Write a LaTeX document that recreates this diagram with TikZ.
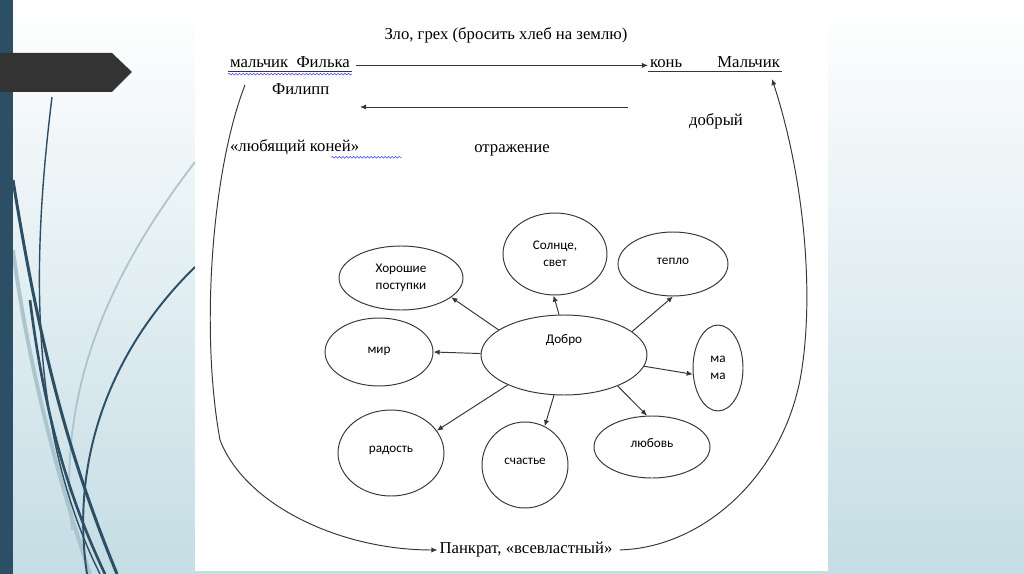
\documentclass[tikz,border=0pt]{standalone}
\usepackage{fontspec}
\setmainfont{Liberation Serif}
\newfontfamily\calfont{Carlito}
\usetikzlibrary{arrows.meta,shapes.geometric,decorations.pathmorphing}

\definecolor{stripblue}{RGB}{44,79,101}
\definecolor{lightcurve}{RGB}{172,196,206}
\definecolor{bgbottom}{RGB}{197,221,229}
\definecolor{taggray}{RGB}{51,51,51}
\definecolor{ink}{RGB}{55,55,55}

\tikzset{
  txt/.style={font=\fontsize{9.5}{11}\selectfont, inner sep=1pt},
  oval/.style={draw=ink, ellipse, inner sep=0pt, align=center, line width=0.55pt,
    font=\calfont\fontsize{7.5}{9.5}\selectfont},
  arr/.style={draw=ink, line width=0.55pt, -{Latex[length=3.5pt,width=3pt]}},
  uline/.style={draw=ink, line width=0.45pt},
  squig/.style={draw=blue!75, line width=0.3pt, decorate,
    decoration={snake, segment length=2pt, amplitude=0.5pt}},
}

\begin{document}
\begin{tikzpicture}[x=0.02cm, y=-0.02cm]
  \useasboundingbox (0,0) rectangle (1024,574);

  % Slide background
  \shade[top color=white, bottom color=bgbottom] (0,0) rectangle (1024,574);
  \fill[white] (195,0) rectangle (828,571);
  \fill[stripblue] (0,0) rectangle (13,574);

  % Curves on the left
  \begin{scope}
    \clip (13,0) rectangle (195,574);
    \draw[lightcurve, line width=2.2pt] (13,250) .. controls (30,380) and (65,500) .. (90,574);
    \draw[lightcurve, line width=1pt] (195,162) .. controls (120,260) and (55,380) .. (72,530);
    \draw[stripblue, line width=0.8pt] (52,97) .. controls (32,260) and (28,430) .. (100,574);
    \draw[stripblue, line width=1.7pt] (13,180) .. controls (40,350) and (70,460) .. (117,574);
    \draw[stripblue, line width=1.5pt] (30,300) .. controls (45,420) and (70,500) .. (105,574);
    \draw[stripblue, line width=1.1pt] (195,267) .. controls (110,350) and (70,460) .. (87,574);
  \end{scope}
  \fill[taggray] (0,53) -- (112,53) -- (132,72) -- (112,92) -- (0,92) -- cycle;

  % Top texts
  \node[txt] (title) at (506,35) {Зло, грех (бросить хлеб на землю)};
  \node[txt, anchor=base west] (boy) at (228,68) {мальчик\ \ Филька};
  \node[txt, anchor=base west] (kon) at (648,68) {конь};
  \node[txt, anchor=base east] (malchik) at (782,68) {Мальчик};
  \node[txt, anchor=base west] (filipp) at (270,95) {Филипп};
  \node[txt] (dobryi) at (716,121) {добрый};
  \node[txt, anchor=base west] (lyub) at (228,152) {«любящий коней»};
  \node[txt] (otrazh) at (512,150) {отражение};
  \node[txt] (pankrat) at (526,550) {Панкрат, «всевластный»};

  % Underlines
  \draw[uline] ([yshift=-2pt]boy.base west) -- ([yshift=-2pt]boy.base east);
  \draw[squig] ([yshift=-3.5pt]boy.base west) -- ([yshift=-3.5pt]boy.base east);
  \draw[uline] ([yshift=-2pt]kon.base west) -- ([yshift=-2pt]malchik.base east);
  \draw[squig] ([xshift=-17pt,yshift=-3pt]lyub.base east) -- ([xshift=23pt,yshift=-3pt]lyub.base east);

  % Arrows between the names
  \coordinate (a2s) at (628,107);
  \coordinate (a2e) at (360,107);
  \draw[arr, shorten <=2pt] ([yshift=1.5pt]boy.base east) -- ([yshift=1.5pt]kon.base west);
  \draw[arr] (a2s) -- (a2e);

  % Ovals
  \node[oval, minimum width=3.32cm, minimum height=1.6cm, text depth=18pt] (dobro) at (564,355) {Добро};
  \node[oval, minimum width=2.08cm, minimum height=1.64cm] (sol) at (555,254) {Солнце,\\свет};
  \node[oval, minimum width=2.48cm, minimum height=1.28cm] (hor) at (401,278) {Хорошие\\поступки};
  \node[oval, minimum width=2.2cm, minimum height=1.28cm, text depth=3pt] (teplo) at (673,264) {тепло};
  \node[oval, minimum width=1.0cm, minimum height=1.72cm] (mama) at (718,368) {ма\\ма};
  \node[oval, minimum width=2.16cm, minimum height=1.36cm, text depth=2pt] (mir) at (379,352) {мир};
  \node[oval, minimum width=2.12cm, minimum height=1.72cm, text depth=4pt] (rad) at (391,453) {радость};
  \node[oval, minimum width=1.72cm, minimum height=1.72cm, text depth=4pt] (sch) at (525,465) {счастье};
  \node[oval, minimum width=2.32cm, minimum height=1.24cm, text depth=4pt] (lyubov) at (652,447) {любовь};

  % Arrows from the centre
  \draw[arr] (dobro.159) -- (hor.-21);
  \draw[arr] (dobro.97) -- (sol.-92);
  \draw[arr] (dobro.179) -- (mir.0);
  \draw[arr] (dobro.19) -- (teplo.-90);
  \draw[arr] (dobro.-8) -- (mama.194);
  \draw[arr] (dobro.-30) -- (lyubov.99);
  \draw[arr] (dobro.208) -- (rad.26);
  \draw[arr] (dobro.-104) -- (sch.63);

  % Big loop
  \coordinate (ltop) at (245,85);
  \coordinate (rtop) at (772,79);
  \draw[arr] (ltop) .. controls (212,170) and (200,330) .. (220,440)
    .. controls (245,505) and (340,550) .. (pankrat.west);
  \draw[arr, shorten <=3pt] (pankrat.east) .. controls (700,548) and (780,480) .. (800,380)
    .. controls (815,300) and (805,180) .. (rtop);

\end{tikzpicture}
\end{document}
